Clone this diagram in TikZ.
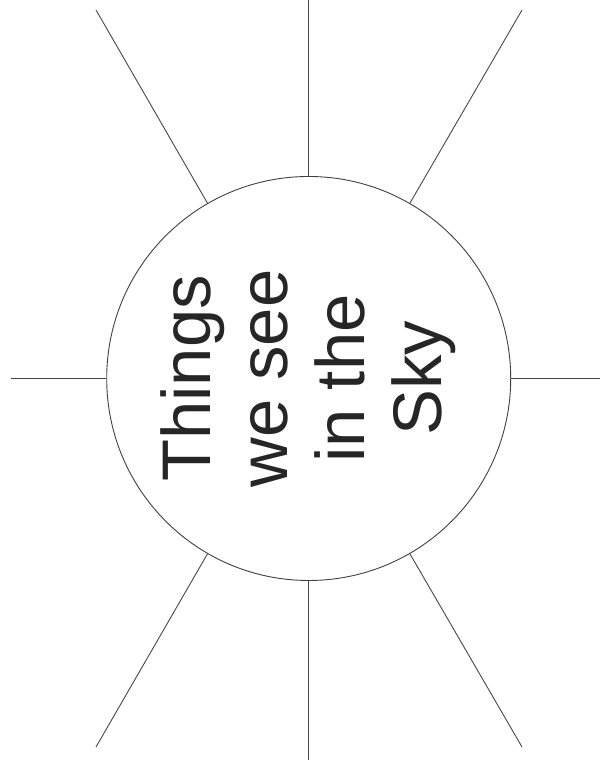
\documentclass[tikz,border=0pt]{standalone}
\usepackage{fontspec}
\setmainfont{Liberation Sans}
\begin{document}
\begin{tikzpicture}[x=0.5pt, y=0.5pt,
    ray/.style={line width=0.45pt, black!72},
    hub/.style={circle, draw=black!75, line width=0.45pt, minimum size=202pt, inner sep=0pt}]
        % Khung
        \useasboundingbox (0,0) rectangle (600,764);

        % Hình tròn ở giữa
        \node[hub] (sky) at (308.7,385.5) {};
        \node[rotate=90, align=center, text=black!85, font=\fontsize{34.4pt}{38.5pt}\selectfont] (title) at (sky.center) {Things\\we see\\in the\\Sky};

        % Điểm cuối của các tia
        \coordinate (endN) at (308.7,764);
        \coordinate (endS) at (308.7,4);
        \coordinate (endW) at (11,385.5);
        \coordinate (endE) at (600,385.5);
        \coordinate (endNW) at (96,754);
        \coordinate (endNE) at (522,754);
        \coordinate (endSW) at (96,17);
        \coordinate (endSE) at (522,17);

        % Các tia
        \draw[ray] (sky.north) -- (endN);
        \draw[ray] (sky.south) -- (endS);
        \draw[ray] (sky.west) -- (endW);
        \draw[ray] (sky.east) -- (endE);
        \draw[ray] (sky.120) -- (endNW);
        \draw[ray] (sky.60) -- (endNE);
        \draw[ray] (sky.240) -- (endSW);
        \draw[ray] (sky.300) -- (endSE);
    \end{tikzpicture}
\end{document}
